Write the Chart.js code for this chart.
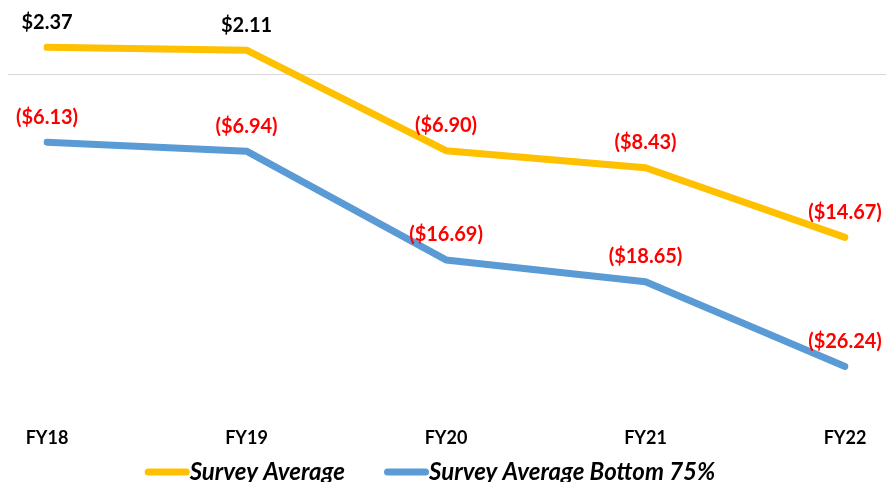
<!DOCTYPE html>
<html>
<head>
<meta charset="utf-8">
<script src="https://cdn.jsdelivr.net/npm/chart.js@4/dist/chart.umd.min.js"></script>
<style>
  html, body { margin: 0; padding: 0; background: #fff; }
  #wrap { width: 886px; height: 482px; position: relative; }
</style>
</head>
<body>
<div id="wrap"><canvas id="chart"></canvas></div>
<script>
const years = ['FY18', 'FY19', 'FY20', 'FY21', 'FY22'];
const surveyAverage = [2.37, 2.11, -6.90, -8.43, -14.67];
const surveyBottom75 = [-6.13, -6.94, -16.69, -18.65, -26.24];
const seriesNames = ['Survey Average', 'Survey Average Bottom 75%'];

const FONT = 'Lato, "Open Sans", sans-serif';

function money(v) {
  const s = '$' + Math.abs(v).toFixed(2);
  return v < 0 ? '(' + s + ')' : s;
}

// value labels above each point
const pointLabels = {
  id: 'pointLabels',
  afterDatasetsDraw(chart) {
    const ctx = chart.ctx;
    ctx.save();
    ctx.font = 'bold 20px ' + FONT;
    ctx.textAlign = 'center';
    ctx.textBaseline = 'middle';
    chart.data.datasets.forEach((ds, i) => {
      chart.getDatasetMeta(i).data.forEach((pt, j) => {
        const v = ds.data[j];
        ctx.fillStyle = v < 0 ? '#ff0000' : '#000000';
        ctx.fillText(money(v), pt.x, pt.y - 25);
      });
    });
    ctx.restore();
  }
};

// horizontal zero line running across the whole width
const zeroLine = {
  id: 'zeroLine',
  beforeDatasetsDraw(chart) {
    const y = Math.round(chart.scales.y.getPixelForValue(0)) + 0.5;
    const ctx = chart.ctx;
    ctx.save();
    ctx.strokeStyle = '#d9d9d9';
    ctx.lineWidth = 1;
    ctx.beginPath();
    ctx.moveTo(8, y);
    ctx.lineTo(chart.width, y);
    ctx.stroke();
    ctx.restore();
  }
};

// legend: short thick line with the name right after it
const lineLegend = {
  id: 'lineLegend',
  afterDraw(chart) {
    const ctx = chart.ctx;
    const sample = 38, gap = 39, y = 472;
    ctx.save();
    ctx.font = 'italic bold 24px ' + FONT;
    ctx.textBaseline = 'middle';
    const items = chart.data.datasets.map(ds => ({
      ds, w: 3.5 + sample + 3.5 + ctx.measureText(ds.label).width
    }));
    const total = items.reduce((a, it) => a + it.w, 0) + gap * (items.length - 1);
    let x = 430 - total / 2;
    items.forEach(it => {
      ctx.strokeStyle = it.ds.borderColor;
      ctx.lineWidth = 7;
      ctx.lineCap = 'round';
      ctx.beginPath();
      ctx.moveTo(x + 3.5, y);
      ctx.lineTo(x + 3.5 + sample, y);
      ctx.stroke();
      ctx.fillStyle = '#000';
      ctx.fillText(it.ds.label, x + sample + 7, y);
      x += it.w + gap;
    });
    ctx.restore();
  }
};

new Chart(document.getElementById('chart'), {
  type: 'line',
  data: {
    labels: years,
    datasets: [{
      label: seriesNames[0],
      data: surveyAverage,
      borderColor: '#ffc000',
      backgroundColor: '#ffc000',
      borderWidth: 7,
      borderCapStyle: 'round',
      borderJoinStyle: 'round',
      pointRadius: 0,
      tension: 0
    }, {
      label: seriesNames[1],
      data: surveyBottom75,
      borderColor: '#5b9bd5',
      backgroundColor: '#5b9bd5',
      borderWidth: 7,
      borderCapStyle: 'round',
      borderJoinStyle: 'round',
      pointRadius: 0,
      tension: 0
    }]
  },
  options: {
    responsive: true,
    maintainAspectRatio: false,
    animation: false,
    layout: { padding: { left: 47, right: 41, top: 18, bottom: 22 } },
    scales: {
      y: {
        display: false,
        min: -30,
        max: 5
      },
      x: {
        offset: false,
        grid: { display: false },
        border: { display: false },
        ticks: {
          color: '#000',
          padding: 11,
          font: { family: FONT, size: 18, weight: 'bold' }
        }
      }
    },
    plugins: {
      legend: { display: false },
      tooltip: { enabled: false }
    }
  },
  plugins: [zeroLine, pointLabels, lineLegend]
});
</script>
</body>
</html>
